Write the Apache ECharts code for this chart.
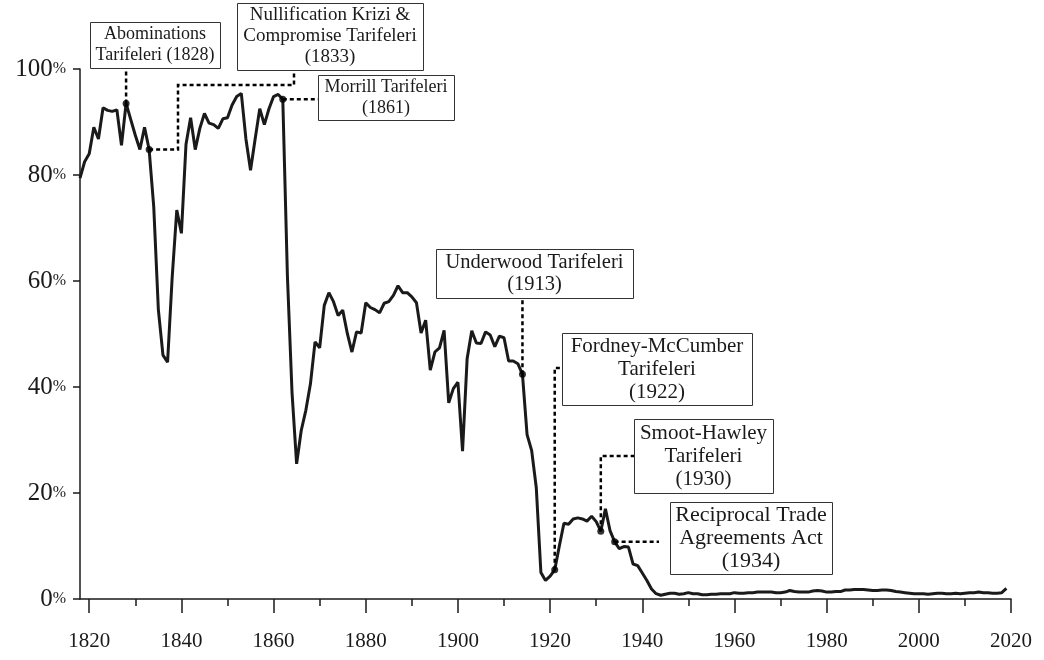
<!DOCTYPE html>
<html>
<head>
<meta charset="utf-8">
<script src="https://cdn.jsdelivr.net/npm/echarts@6/dist/echarts.min.js"></script>
<style>
  html, body { margin: 0; padding: 0; background: #fff; }
  #chart { width: 1044px; height: 660px; }
</style>
</head>
<body>
<div id="chart"></div>
<script>
// customs share of federal revenue (%), one value per year
const start1 = 1818;
const shares1 = [
  79.4, 82.5, 84, 89, 86.8, 92.7, 92.2, 92, 92.3, 85.6,
  93.5, 90.5, 87.5, 84.8, 89, 84.8, 74, 54.6, 46, 44.7,
  60.7, 73.4, 69, 85.8, 90.8, 84.8, 88.8, 91.6, 89.8, 89.5,
  88.8, 90.6, 90.8, 93.2, 94.8, 95.4, 86.8, 80.9, 86.8, 92.5,
  89.5, 92.5, 94.8, 95.2, 94.3,
];
const start2 = 1863;
const shares2 = [
  61, 39, 25.5, 31.8, 35.6, 40.6, 48.5, 47.4, 55.4, 57.8,
  56.1, 53.5, 54.5, 50.1, 46.6, 50.4, 50.2, 55.9, 55, 54.6,
  54, 55.8, 56.1, 57.3, 59.1, 57.8, 57.8, 57, 55.9, 50.2,
  52.6, 43.2, 46.6, 47.4, 50.7, 37, 39.7, 40.9, 27.9, 45.4,
  50.6, 48.3, 48.2, 50.4, 49.8, 47.6, 49.6, 49.3, 44.9, 44.9,
  44.4,
];
const start3 = 1914;
const shares3 = [
  42.4, 31, 28, 21, 5, 3.5, 4.3, 5.5, 10, 14.3,
  14.1, 15.1, 15.3, 15.1, 14.7, 15.6, 14.6, 12.8, 17, 12.9,
  10.8, 9.5, 9.9, 9.8, 6.6, 6.3, 4.9, 3.5, 1.9, 1.0,
  0.7, 0.9,
];
const start4 = 1946;
const shares4 = [
  1.1, 1.1, 0.9, 1.0, 1.2, 1.0, 1.0, 0.8, 0.8, 0.9,
  0.9, 1.0, 1.0, 1.0, 1.2, 1.1, 1.1, 1.2, 1.2, 1.3,
  1.3, 1.3, 1.3, 1.2, 1.2, 1.3, 1.6, 1.4, 1.3, 1.3,
  1.3, 1.5, 1.6, 1.5, 1.3, 1.3, 1.4, 1.4, 1.7, 1.7,
  1.8, 1.8, 1.8, 1.7, 1.6, 1.6, 1.7, 1.7, 1.6, 1.4,
  1.3, 1.2, 1.1, 1.0, 1.0, 1.0, 0.9, 1.0, 1.1, 1.1,
  1.0, 1.0, 1.1, 1.0, 1.1, 1.2, 1.2, 1.3, 1.2, 1.2,
  1.1, 1.1, 1.2, 2.0,
];

const majorTicks = [1820, 1840, 1860, 1880, 1900, 1920, 1940, 1960, 1980, 2000, 2020];
const minorTicks = [1830, 1850, 1870, 1890, 1910, 1930, 1950, 1970, 1990, 2010];

const eventYears = [1828, 1833, 1862, 1914, 1921, 1931, 1934];
const eventLabels = [
  ['Abominations', 'Tarifeleri (1828)'],
  ['Nullification Krizi &', 'Compromise Tarifeleri', '(1833)'],
  ['Morrill Tarifeleri', '(1861)'],
  ['Underwood Tarifeleri', '(1913)'],
  ['Fordney-McCumber', 'Tarifeleri', '(1922)'],
  ['Smoot-Hawley', 'Tarifeleri', '(1930)'],
  ['Reciprocal Trade', 'Agreements Act', '(1934)'],
];

const toPairs = (startYear, values) => values.map((v, i) => [startYear + i, v]);
const series = [
  ...toPairs(start1, shares1),
  ...toPairs(start2, shares2),
  ...toPairs(start3, shares3),
  ...toPairs(start4, shares4),
];
const valueAt = (year) => series.find((d) => d[0] === year)[1];
const eventPoints = eventYears.map((y) => [y, valueAt(y)]);

// box layout in pixels: [x, y, w, h, fontSize, lineHeight]
const boxes = [
  [90, 22, 130, 46, 18, 21],
  [237, 3, 186, 67, 19, 21],
  [318, 75, 136, 45, 18, 21],
  [436, 249, 197, 49, 20.5, 22],
  [562, 333, 190, 72, 21, 23],
  [634, 419, 139, 74, 21, 23],
  [670, 502, 162, 72, 22, 23],
];
// leader lines, starting at each event dot
const leaders = [
  (p) => [p, [p[0], 68]],
  (p) => [p, [178, p[1]], [178, 85], [294, 85], [294, 70]],
  (p) => [p, [318, p[1]]],
  (p) => [p, [p[0], 298]],
  (p) => [p, [p[0], 368], [562, 368]],
  (p) => [p, [p[0], 456], [634, 456]],
  (p) => [p, [659, p[1]]],
];

const FONT = '"Liberation Serif", "Times New Roman", serif';
const INK = '#1a1a1a';

const chart = echarts.init(document.getElementById('chart'), null, { renderer: 'canvas' });

chart.setOption({
  animation: false,
  backgroundColor: '#fff',
  grid: { left: 80, right: 33, top: 69, bottom: 61, containLabel: false, outerBoundsMode: 'none' },
  xAxis: [
    {
      type: 'value', min: 1818, max: 2020,
      axisLine: { lineStyle: { color: INK, width: 1.5 } },
      axisTick: { customValues: majorTicks, length: 14, lineStyle: { color: INK, width: 1.5 } },
      axisLabel: {
        customValues: majorTicks, margin: 32, fontFamily: FONT, fontSize: 21, color: INK,
        formatter: (v) => String(v),
      },
      splitLine: { show: false },
    },
    {
      type: 'value', min: 1818, max: 2020, position: 'bottom',
      axisLine: { show: false },
      axisTick: { customValues: minorTicks, length: 7, lineStyle: { color: INK, width: 1.5 } },
      axisLabel: { show: false },
      splitLine: { show: false },
    },
  ],
  yAxis: {
    type: 'value', min: 0, max: 100, interval: 20,
    axisLine: { show: true, lineStyle: { color: INK, width: 1.5 } },
    axisTick: { show: true, length: 7, lineStyle: { color: INK, width: 1.5 } },
    axisLabel: {
      margin: 14, color: INK,
      formatter: (v) => '{n|' + v + '}{p|%}',
      rich: {
        n: { fontFamily: FONT, fontSize: 25, color: INK },
        p: { fontFamily: FONT, fontSize: 16, color: INK },
      },
    },
    splitLine: { show: false },
  },
  series: [
    {
      type: 'line', data: series, showSymbol: false, z: 2,
      lineStyle: { color: INK, width: 3 },
    },
    {
      type: 'scatter', data: eventPoints, symbolSize: 7, z: 4,
      itemStyle: { color: '#000' },
    },
  ],
});

const graphics = [];
eventPoints.forEach((pt, i) => {
  const p = chart.convertToPixel({ seriesIndex: 0 }, pt);
  const [bx, by, bw, bh, fs, lh] = boxes[i];
  graphics.push({
    type: 'polyline', z: 3, silent: true,
    shape: { points: leaders[i](p) },
    style: { stroke: '#000', lineWidth: 2.5, lineDash: [4, 3], fill: null },
  });
  graphics.push({
    type: 'rect', z: 5, silent: true,
    shape: { x: bx + 0.5, y: by + 0.5, width: bw, height: bh },
    style: { fill: '#fff', stroke: '#333', lineWidth: 1 },
  });
  graphics.push({
    type: 'text', z: 6, silent: true,
    style: {
      text: eventLabels[i].join('\n'),
      x: bx + bw / 2, y: by + bh / 2,
      textAlign: 'center', textVerticalAlign: 'middle',
      font: fs + 'px ' + FONT, lineHeight: lh, fill: INK,
    },
  });
});
chart.setOption({ graphic: graphics });
</script>
</body>
</html>
